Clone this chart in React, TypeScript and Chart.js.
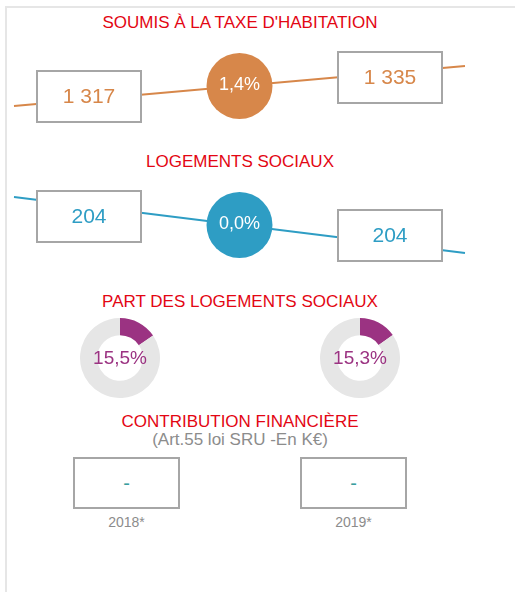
import React, { useEffect, useRef } from 'react';
import { Chart, registerables } from 'chart.js';

Chart.register(...registerables);

const FONT = '"Liberation Sans", Arial, Helvetica, sans-serif';

// ---- data ----
const years = ['2018*', '2019*'];
const taxeValues = [1317, 1335];
const taxeChange = 1.4;
const socialValues = [204, 204];
const socialChange = 0.0;
const shareValues = [15.5, 15.3];
const contributionValues = ['-', '-'];

// decorative guide line (x in slot units, y in level units of each panel)
const guideSlots = [-0.5, 1, 2.5];
const boxSlots = [0, 2];
const taxeGuide = [66, 46, 26];
const taxeBoxLevels = [55.5, 37];
const socialGuide = [22, 50, 78];
const socialBoxLevels = [41, 60];

// ---- colours ----
const RED = '#e30613';
const ORANGE = '#d7874a';
const BLUE = '#2e9dc4';
const PURPLE = '#9b3382';
const DONUT_GREY = '#e6e6e6';
const BOX_BORDER = '#a6a6a6';
const GREY_TEXT = '#8c8c8c';
const TEAL = '#3a9e9e';
const FRAME = '#e6e6e6';

const formatThousands = (v: number) => String(v).replace(/\B(?=(\d{3})+(?!\d))/g, ' ');
const formatPct = (v: number) => v.toFixed(1).replace('.', ',') + '%';

function TrendChart(props: {
  top: number;
  height: number;
  color: string;
  values: number[];
  change: number;
  guide: number[];
  boxLevels: number[];
}) {
  const { top, height, color, values, change, guide, boxLevels } = props;
  const ref = useRef<HTMLCanvasElement>(null);
  useEffect(() => {
    if (!ref.current) return;
    const boxPlugin = {
      id: 'boxes',
      afterDatasetsDraw(chart: any) {
        const { ctx, scales } = chart;
        const xs = scales.x;
        const ys = scales.y;
        ctx.save();
        values.forEach((v, i) => {
          const px = Math.round(xs.getPixelForValue(boxSlots[i]));
          const py = Math.round(ys.getPixelForValue(boxLevels[i]));
          ctx.fillStyle = '#ffffff';
          ctx.fillRect(px - 53, py - 26, 106, 53);
          ctx.strokeStyle = BOX_BORDER;
          ctx.lineWidth = 2;
          ctx.strokeRect(px - 52, py - 25, 104, 51);
          ctx.fillStyle = color;
          ctx.font = `21px ${FONT}`;
          ctx.textAlign = 'center';
          ctx.textBaseline = 'middle';
          ctx.fillText(formatThousands(v), px, py + 1);
        });
        const meta = chart.getDatasetMeta(0);
        const mid = meta.data[1];
        ctx.fillStyle = '#ffffff';
        ctx.font = `18px ${FONT}`;
        ctx.textAlign = 'center';
        ctx.textBaseline = 'middle';
        ctx.fillText(formatPct(change), mid.x, mid.y - 1);
        ctx.restore();
      },
    };
    const chart = new Chart(ref.current, {
      type: 'scatter',
      data: {
        datasets: [
          {
            data: guideSlots.map((x, i) => ({ x, y: guide[i] })),
            showLine: true,
            borderColor: color,
            borderWidth: 2,
            pointRadius: [0, 33, 0],
            pointHoverRadius: [0, 33, 0],
            pointBackgroundColor: color,
            pointBorderWidth: 0,
            clip: false,
          } as any,
        ],
      },
      options: {
        animation: false,
        responsive: false,
        maintainAspectRatio: false,
        events: [],
        layout: { padding: { left: 14, right: 50, top: 0, bottom: 0 } },
        scales: {
          x: { type: 'linear', min: -0.5, max: 2.5, display: false },
          y: { type: 'linear', min: 0, max: height, reverse: true, display: false },
        },
        plugins: { legend: { display: false }, tooltip: { enabled: false } },
      },
      plugins: [boxPlugin],
    });
    return () => chart.destroy();
  }, []);
  return (
    <canvas
      ref={ref}
      width={515}
      height={height}
      style={{ position: 'absolute', left: 0, top, width: 515, height }}
    />
  );
}

function Donut(props: { left: number; top: number; value: number }) {
  const { left, top, value } = props;
  const ref = useRef<HTMLCanvasElement>(null);
  useEffect(() => {
    if (!ref.current) return;
    const centerText = {
      id: 'centerText',
      afterDraw(chart: any) {
        const { ctx, chartArea } = chart;
        ctx.save();
        ctx.fillStyle = PURPLE;
        ctx.font = `19px ${FONT}`;
        ctx.textAlign = 'center';
        ctx.textBaseline = 'middle';
        ctx.fillText(
          formatPct(value),
          (chartArea.left + chartArea.right) / 2,
          (chartArea.top + chartArea.bottom) / 2 + 1
        );
        ctx.restore();
      },
    };
    const chart = new Chart(ref.current, {
      type: 'doughnut',
      data: {
        labels: ['Logements sociaux', 'Autres'],
        datasets: [
          {
            data: [value, 100 - value],
            backgroundColor: [PURPLE, DONUT_GREY],
            borderWidth: 0,
          },
        ],
      },
      options: {
        animation: false,
        responsive: false,
        maintainAspectRatio: false,
        events: [],
        cutout: '57%',
        layout: { padding: 0 },
        plugins: { legend: { display: false }, tooltip: { enabled: false } },
      },
      plugins: [centerText],
    });
    return () => chart.destroy();
  }, []);
  return (
    <canvas
      ref={ref}
      width={80}
      height={80}
      style={{ position: 'absolute', left, top, width: 80, height: 80 }}
    />
  );
}

function Text(props: { top: number; size: number; color: string; children: any; left?: number; width?: number }) {
  const { top, size, color, children, left = 0, width = 480 } = props;
  return (
    <div
      style={{
        position: 'absolute',
        left,
        top,
        width,
        textAlign: 'center',
        fontFamily: FONT,
        fontSize: size,
        lineHeight: `${size * 1.25}px`,
        color,
        whiteSpace: 'nowrap',
      }}
    >
      {children}
    </div>
  );
}

const contribBoxLefts = [73, 300];

export default function App() {
  return (
    <div
      style={{
        position: 'absolute',
        left: 0,
        top: 0,
        width: 515,
        height: 592,
        background: '#ffffff',
        overflow: 'hidden',
      }}
    >
      <div
        style={{
          position: 'absolute',
          left: 5,
          top: 6,
          width: 520,
          height: 600,
          borderTop: `2px solid ${FRAME}`,
          borderLeft: `2px solid ${FRAME}`,
        }}
      />
      <Text top={12} size={17} color={RED}>SOUMIS À LA TAXE D'HABITATION</Text>
      <TrendChart
        top={40}
        height={100}
        color={ORANGE}
        values={taxeValues}
        change={taxeChange}
        guide={taxeGuide}
        boxLevels={taxeBoxLevels}
      />
      <Text top={150.5} size={17} color={RED}>LOGEMENTS SOCIAUX</Text>
      <TrendChart
        top={175}
        height={100}
        color={BLUE}
        values={socialValues}
        change={socialChange}
        guide={socialGuide}
        boxLevels={socialBoxLevels}
      />
      <Text top={291.3} size={17} color={RED}>PART DES LOGEMENTS SOCIAUX</Text>
      <Donut left={80} top={318} value={shareValues[0]} />
      <Donut left={320} top={318} value={shareValues[1]} />
      <Text top={410.6} size={17} color={RED}>CONTRIBUTION FINANCIÈRE</Text>
      <Text top={428.5} size={17} color={GREY_TEXT}>(Art.55 loi SRU -En K€)</Text>
      {contributionValues.map((v, i) => (
        <React.Fragment key={i}>
          <div
            style={{
              position: 'absolute',
              left: contribBoxLefts[i],
              top: 457,
              width: 107,
              height: 52,
              boxSizing: 'border-box',
              border: `2px solid ${BOX_BORDER}`,
              display: 'flex',
              alignItems: 'center',
              justifyContent: 'center',
              fontFamily: FONT,
              fontSize: 20,
              color: TEAL,
            }}
          >
            {v}
          </div>
          <Text top={513.5} size={14} color={GREY_TEXT} left={contribBoxLefts[i]} width={107}>
            {years[i]}
          </Text>
        </React.Fragment>
      ))}
    </div>
  );
}
